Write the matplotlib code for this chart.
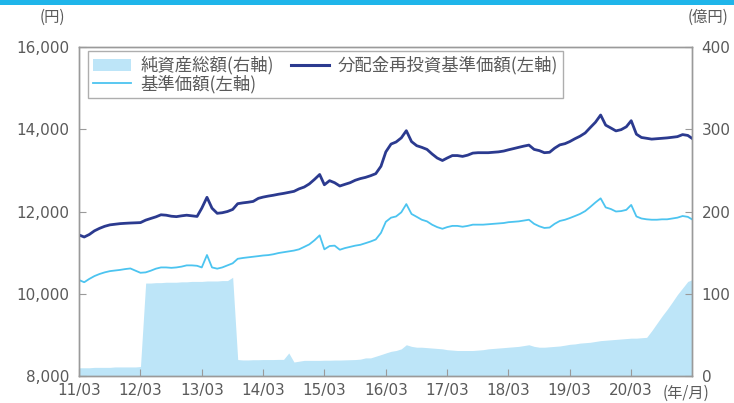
import numpy as np
import pandas as pd
import matplotlib
matplotlib.use('Agg')
import matplotlib.pyplot as plt
import matplotlib.dates as mdates
from matplotlib.patches import Rectangle, Patch
from matplotlib.lines import Line2D

plt.rcParams['font.family'] = ['Noto Sans CJK JP', 'DejaVu Sans']

# monthly points 2011/03 .. 2021/02, last point = end of Feb 2021
dates = list(pd.date_range('2011-03-01', '2021-02-01', freq='MS')) + [pd.Timestamp('2021-02-26')]

# 分配金再投資基準価額 (円)
nav_reinv = [
    11430, 11380, 11440, 11530, 11590, 11640, 11675, 11690, 11705, 11713, 11720, 11725,
    11730, 11790, 11830, 11870, 11920, 11910, 11885, 11875, 11895, 11910, 11895, 11880,
    12080, 12345, 12080, 11956, 11970, 12000, 12050, 12190, 12210, 12225, 12245, 12320,
    12350, 12375, 12395, 12420, 12440, 12465, 12490, 12550, 12595, 12670, 12780, 12900,
    12650, 12750, 12700, 12620, 12660, 12700, 12760, 12800, 12830, 12870, 12920, 13100,
    13450, 13640, 13690, 13790, 13965, 13700, 13600, 13560, 13510, 13400, 13300, 13240,
    13300, 13360, 13360, 13340, 13370, 13420, 13430, 13430, 13430, 13440, 13450, 13470,
    13500, 13530, 13560, 13590, 13615, 13510, 13480, 13430, 13440, 13540, 13620, 13650,
    13700, 13770, 13830, 13910, 14040, 14170, 14346, 14100, 14030, 13960, 13990, 14060,
    14208, 13880, 13800, 13780, 13760, 13770, 13780, 13790, 13805, 13820, 13870, 13850,
    13779,
]

# 基準価額 (円)
nav = [
    10334, 10280, 10360, 10430, 10480, 10520, 10550, 10565, 10580, 10600, 10615, 10560,
    10510, 10520, 10560, 10610, 10640, 10640, 10630, 10640, 10660, 10690, 10690, 10680,
    10640, 10942, 10640, 10610, 10640, 10690, 10740, 10850, 10870, 10885, 10900, 10915,
    10930, 10940, 10960, 10990, 11010, 11030, 11050, 11080, 11140, 11200, 11300, 11420,
    11080, 11160, 11170, 11070, 11110, 11140, 11170, 11190, 11230, 11270, 11320, 11480,
    11750, 11850, 11880, 11980, 12180, 11940, 11870, 11800, 11760, 11680, 11620, 11580,
    11620, 11650, 11650, 11630, 11650, 11680, 11680, 11680, 11690, 11700, 11710, 11720,
    11740, 11750, 11760, 11780, 11800, 11700, 11640, 11600, 11610, 11700, 11770, 11800,
    11840, 11890, 11940, 12010, 12110, 12220, 12320, 12100, 12060, 12000, 12010, 12040,
    12160, 11880, 11830, 11810, 11800, 11800, 11810, 11810, 11830, 11850, 11890, 11870,
    11810,
]

# 純資産総額 (億円)
net_assets = [
    10, 10, 10, 10.5, 10.5, 10.5, 10.5, 11, 11, 11, 11, 11,
    11.5, 113, 113, 113.5, 113.5, 114, 114, 114, 114.5, 114.5, 115, 115,
    115, 115.5, 115.5, 115.5, 116, 116, 120, 20, 19.5, 19.5, 19.8, 19.8,
    20, 20, 20, 20.2, 20.2, 28, 17, 18, 19, 19, 19, 19,
    19.2, 19.2, 19.4, 19.4, 19.6, 19.8, 20, 20.5, 22, 22, 24, 26,
    28, 30, 31, 33, 38, 36, 35, 35, 34.5, 34, 33.5, 33,
    32, 31.5, 31, 31, 31, 31, 31.5, 32, 33, 33.5, 34, 34.5,
    35, 35.5, 36, 37, 38, 36, 35, 35, 35.5, 36, 36.5, 37.5,
    38.5, 39, 40, 40.5, 41, 42, 43, 43.5, 44, 44.5, 45, 45.5,
    46, 46, 46.5, 47, 55, 64, 73, 81, 90, 99, 107, 115,
    117,
]

year_ticks = pd.date_range('2011-03-01', '2020-03-01', freq='12MS')

c_fill = '#bde5f8'
c_dark = '#2b3a8f'
c_light = '#4cc4f0'
c_grey = '#9a9a9a'
c_text = '#5a5a5a'

fig = plt.figure(figsize=(7.34, 4.03), dpi=100)
ax = fig.add_axes([79/734, 1 - 376/403, (692 - 79)/734, (376 - 47)/403])
ax2 = ax.twinx()

ax2.fill_between(dates, 0, net_assets, color=c_fill, linewidth=0)
ax2.set_ylim(0, 400)
ax2.set_yticks([0, 100, 200, 300, 400])

ax.plot(dates, nav, color=c_light, linewidth=1.3)
ax.plot(dates, nav_reinv, color=c_dark, linewidth=2.0)
ax.set_ylim(8000, 16000)
ax.set_yticks(np.arange(8000, 16001, 2000))
ax.yaxis.set_major_formatter(matplotlib.ticker.FuncFormatter(lambda v, p: f'{int(v):,}'))
ax.set_xlim(dates[0], dates[-1])
ax.set_xticks(year_ticks)
ax.xaxis.set_major_formatter(mdates.DateFormatter('%y/%m'))

ax.set_zorder(ax2.get_zorder() + 1)
ax.patch.set_visible(False)

for a in (ax, ax2):
    for s in a.spines.values():
        s.set_color(c_grey)
        s.set_linewidth(1.0)
ax.tick_params(axis='both', direction='in', length=5, color=c_grey, labelcolor=c_text)
ax.tick_params(axis='y', pad=7)
ax.tick_params(axis='x', pad=5)
ax2.tick_params(axis='y', direction='in', length=5, color=c_grey, labelcolor=c_text, pad=7)
for lab in ax.get_xticklabels() + ax.get_yticklabels() + ax2.get_yticklabels():
    lab.set_family('DejaVu Sans')
    lab.set_fontsize(11)

fig.text(65/734, 1 - 17/403, '(円)', ha='right', va='center', fontsize=11, color=c_text)
fig.text(728/734, 1 - 17/403, '(億円)', ha='right', va='center', fontsize=11, color=c_text)
fig.text(663/734, 1 - 393/403, '(年/月)', ha='left', va='center', fontsize=11, color=c_text)

# cyan rule across the top
fig.patches.append(Rectangle((0, 1 - 5/403), 1, 5/403, transform=fig.transFigure,
                             color='#1fb5ea', linewidth=0))

handles = [Patch(facecolor=c_fill, edgecolor='none'),
           Line2D([], [], color=c_light, linewidth=1.3),
           Line2D([], [], color=c_dark, linewidth=2.2)]
labels = ['純資産総額(右軸)', '基準価額(左軸)', '分配金再投資基準価額(左軸)']
leg = ax.legend(handles, labels, ncol=2, loc='upper left', bbox_to_anchor=(9/613, 1 - 4/329),
                fontsize=12.5, frameon=True, fancybox=False, labelspacing=0.0,
                handlelength=2.2, handletextpad=0.5, columnspacing=1.0,
                borderpad=0.3, borderaxespad=0)
leg.get_frame().set_edgecolor(c_grey)
leg.get_frame().set_linewidth(1.0)
for t in leg.get_texts():
    t.set_color(c_text)

fig.savefig('out.png', dpi=100)
